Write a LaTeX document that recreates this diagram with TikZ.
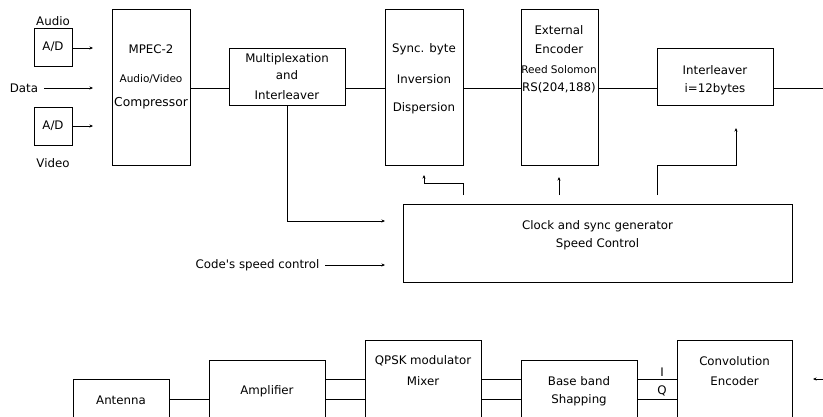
\documentclass[tikz,border=0pt]{standalone}
\usepackage{fontspec}
\setmainfont{DejaVu Sans}
\usetikzlibrary{fit,arrows.meta}
\begin{document}
\begin{tikzpicture}[x=1pt,y=-1pt,
  box/.style={draw, line width=1pt, inner sep=0pt, outer sep=0pt},
  txt/.style={inner sep=0pt, font=\fontsize{11.8}{13}\selectfont},
  stxt/.style={inner sep=0pt, font=\fontsize{10.5}{12}\selectfont},
  ltxt/.style={inner sep=0pt, font=\fontsize{12.3}{14}\selectfont},
  wire/.style={line width=1pt},
  arr/.style={line width=1pt, -{Stealth[length=3.5pt,width=3pt]}}]
\useasboundingbox (0,0) rectangle (823,416);
\clip (0,0) rectangle (823,416);
% ---- boxes (top chain)
\node[box, fit={(34,28) (72,66)}] (ad1) {};
\node[box, fit={(34,107) (72,145)}] (ad2) {};
\node[box, fit={(112,9) (190,165)}] (mpeg) {};
\node[box, fit={(229,48) (345,105)}] (mux) {};
\node[box, fit={(385,9) (463,165)}] (sync) {};
\node[box, fit={(521,9) (598,165)}] (ext) {};
\node[box, fit={(657,48) (773,105)}] (intl) {};
\node[box, fit={(403,204) (792,282)}] (clock) {};
% ---- boxes (bottom chain)
\node[box, fit={(73,379) (169,440)}] (ant) {};
\node[box, fit={(209,360) (325,440)}] (amp) {};
\node[box, fit={(365,340) (481,440)}] (qpsk) {};
\node[box, fit={(521,360) (637,440)}] (base) {};
\node[box, fit={(677,340) (792,440)}] (conv) {};
% ---- texts
\node[txt] (taudio) at (53,21) {Audio};
\node[txt] (tdata) at (24,88) {Data};
\node[txt] (tvideo) at (53,163) {Video};
\node[txt] (tad1) at (53,47) {A/D};
\node[txt] (tad2) at (53,126) {A/D};
\node[txt] (tm1) at (151,49) {MPEC-2};
\node[stxt] (tm2) at (151,79) {Audio/Video};
\node[ltxt] (tm3) at (151,103) {Compressor};
\node[txt] (tx1) at (287,59) {Multiplexation};
\node[txt] (tx2) at (287,75) {and};
\node[txt] (tx3) at (287,95) {Interleaver};
\node[txt] (ts1) at (424,49) {Sync. byte};
\node[txt] (ts2) at (424,79) {Inversion};
\node[txt] (ts3) at (424,108) {Dispersion};
\node[txt] (te1) at (559,30) {External};
\node[txt] (te2) at (559,49) {Encoder};
\node[stxt] (te3) at (559,70) {Reed Solomon};
\node[txt] (te4) at (559,88) {RS(204,188)};
\node[txt] (ti1) at (715,70) {Interleaver};
\node[txt] (ti2) at (715,89) {i=12bytes};
\node[txt] (tc1) at (597.5,226) {Clock and sync generator};
\node[txt] (tc2) at (597.5,244) {Speed Control};
\node[txt] (tcode) at (257.5,265) {Code\textquotesingle s speed control};
\node[txt] (tant) at (121,400) {Antenna};
\node[txt] (tamp) at (267,391) {Amplifier};
\node[txt] (tq1) at (423,361) {QPSK modulator};
\node[txt] (tq2) at (423,381) {Mixer};
\node[txt] (tb1) at (579,381) {Base band};
\node[txt] (tb2) at (579,400) {Shapping};
\node[txt] (tI) at (662,372) {I};
\node[txt] (tQ) at (662,391) {Q};
\node[txt] (tv1) at (734.5,361) {Convolution};
\node[txt] (tv2) at (734.5,381) {Encoder};
% ---- coordinates
\coordinate (ea1) at (93,48);
\coordinate (ds) at (44,88);
\coordinate (ea2) at (93,88);
\coordinate (ea3) at (93,126);
\coordinate (outR) at (823,88);
\coordinate (mxarr) at (385,221);
\coordinate (cs) at (325,265);
\coordinate (ce) at (385,265);
\coordinate (f1s) at (463,195);
\coordinate (f1e) at (424,175);
\coordinate (f2s) at (559,195);
\coordinate (f2e) at (559,177);
\coordinate (f3s) at (657,195);
\coordinate (f3e) at (736,128);
\coordinate (inR) at (823,379);
\coordinate (inE) at (813,379);
% ---- connectors
\draw[arr] (ad1.east |- ea1) -- (ea1);
\draw[arr] (ds) -- (ea2);
\draw[arr] (ad2.east |- ea3) -- (ea3);
\draw[wire] (mpeg.east |- 0,88) -- (mux.west |- 0,88);
\draw[wire] (mux.east |- 0,88) -- (sync.west |- 0,88);
\draw[wire] (sync.east |- 0,88) -- (ext.west |- 0,88);
\draw[wire] (ext.east |- 0,88) -- (intl.west |- 0,88);
\draw[wire] (intl.east |- 0,88) -- (outR);
\draw[arr] (mux.south -| 287,0) |- (mxarr);
\draw[arr] (cs) -- (ce);
\draw[arr] (f1s) -- (463,183) -| (f1e);
\draw[arr] (f2s) -- (f2e);
\draw[arr] (f3s) -- (657,165) -| (f3e);
\draw[wire] (ant.east |- 0,399) -- (amp.west |- 0,399);
\draw[wire] (amp.east |- 0,379) -- (qpsk.west |- 0,379);
\draw[wire] (amp.east |- 0,399) -- (qpsk.west |- 0,399);
\draw[wire] (qpsk.east |- 0,379) -- (base.west |- 0,379);
\draw[wire] (qpsk.east |- 0,399) -- (base.west |- 0,399);
\draw[wire] (base.east |- 0,379) -- (conv.west |- 0,379);
\draw[wire] (base.east |- 0,399) -- (conv.west |- 0,399);
\draw[arr] (inR) -- (inE);
\end{tikzpicture}
\end{document}
